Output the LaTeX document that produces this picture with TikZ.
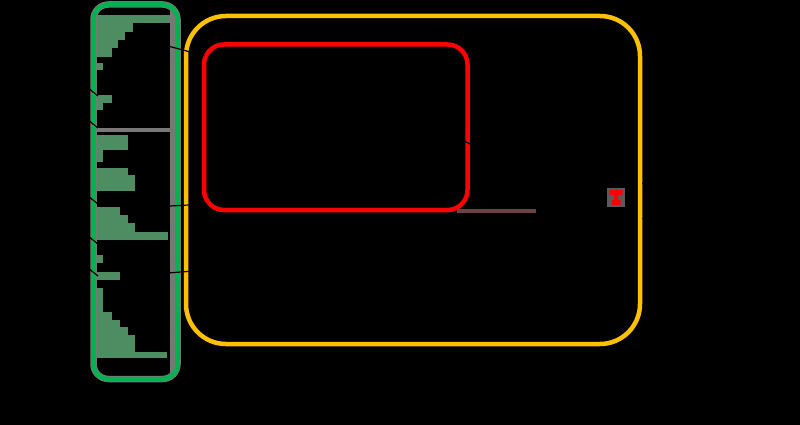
\documentclass[tikz,border=0pt]{standalone}
\usetikzlibrary{arrows.meta}
\definecolor{grnC}{RGB}{0,178,80}
\definecolor{haloC}{RGB}{120,120,120}
\definecolor{ylwC}{RGB}{255,192,0}
\definecolor{barC}{RGB}{78,140,98}
\definecolor{brnC}{RGB}{110,66,66}
\definecolor{iconbg}{RGB}{90,90,90}
\begin{document}
\begin{tikzpicture}[x=1pt,y=-1pt,
  greenc/.style={draw=grnC, line width=4.5pt},
  halo/.style={draw=haloC, line width=6.5pt},
  yellowc/.style={draw=ylwC, line width=4.5pt},
  redc/.style={draw=red, line width=4.5pt},
  bar/.style={fill=barC},
  grayband/.style={fill=haloC},
  tick/.style={draw=black, line width=1.2pt, -{Stealth[length=4pt]}}
]
\useasboundingbox (0,0) rectangle (800,425);
\fill[black] (0,0) rectangle (800,425);

% green box interior bars
\path[bar] (97,15) rectangle (170,23);
\path[bar] (97,23) rectangle (133,32);
\path[bar] (97,32) rectangle (125,40);
\path[bar] (97,40) rectangle (118,48);
\path[bar] (97,48) rectangle (112,57);
\path[bar] (97,63) rectangle (103,70);
\path[bar] (97,95) rectangle (112,103);
\path[bar] (97,103) rectangle (103,110);
\path[grayband] (97,128) rectangle (170,132);
\path[bar] (97,135) rectangle (128,150);
\path[bar] (97,150) rectangle (103,162);
\path[bar] (97,168) rectangle (128,175);
\path[bar] (97,175) rectangle (135,191);
\path[bar] (97,207) rectangle (120,215);
\path[bar] (97,215) rectangle (128,223);
\path[bar] (97,223) rectangle (135,232);
\path[bar] (97,232) rectangle (168,240);
\path[bar] (97,255) rectangle (103,263);
\path[bar] (97,272) rectangle (120,280);
\path[bar] (97,288) rectangle (103,312);
\path[bar] (97,312) rectangle (112,320);
\path[bar] (97,320) rectangle (120,327);
\path[bar] (97,327) rectangle (128,335);
\path[bar] (97,335) rectangle (135,352);
\path[bar] (97,352) rectangle (167,358);
\path[grayband] (170,8) rectangle (175,375);

% green box
\path[halo, rounded corners=15pt] (93.5,4.5) rectangle (177.5,379);
\node[greenc, rounded corners=15pt, minimum width=84pt, minimum height=374.5pt, inner sep=0pt] (grn) at (135.5,191.75) {};

% brown line
\node[inner sep=0pt] (bl) at (457,211) {};
\node[inner sep=0pt] (br) at (536,211) {};
\draw[draw=brnC, line width=4pt] (bl.center) -- (br.center);

% yellow box
\node[yellowc, rounded corners=40pt, minimum width=454pt, minimum height=328pt, inner sep=0pt] (ylw) at (413,180) {};

% red box
\node[redc, rounded corners=20pt, minimum width=263.5pt, minimum height=165.5pt, inner sep=0pt] (redbox) at (335.75,127.25) {};

% red icon
\fill[iconbg] (607,188) rectangle (625,207);
\fill[red] (609.5,190) -- (622.5,190) -- (622.5,195) -- (618,195) -- (618,200) -- (620.5,200) -- (620.5,205) -- (611.5,205) -- (611.5,200) -- (614,200) -- (614,195) -- (609.5,195) -- cycle;

% small black connectors (barely visible)
\coordinate (a1) at (168,46);
\coordinate (a2) at (205,56);
\draw[tick] (a1) -- (a2);
\coordinate (b1) at (170,206);
\coordinate (b2) at (208,204);
\draw[tick] (b1) -- (b2);
\coordinate (c1) at (168,273);
\coordinate (c2) at (194,271);
\draw[tick] (c1) -- (c2);
\foreach \yy in {92,124,200,240,272} {
  \draw[black, line width=1.2pt] (88,\yy-4) -- (98,\yy+4);
}
\coordinate (d1) at (650,176);
\coordinate (d2) at (642,184);
\draw[tick] (d1) -- (d2);
\coordinate (e1) at (650,224);
\coordinate (e2) at (642,218);
\draw[tick] (e1) -- (e2);
\draw[black, line width=1.2pt] (462,140) -- (474,146);
\end{tikzpicture}
\end{document}
